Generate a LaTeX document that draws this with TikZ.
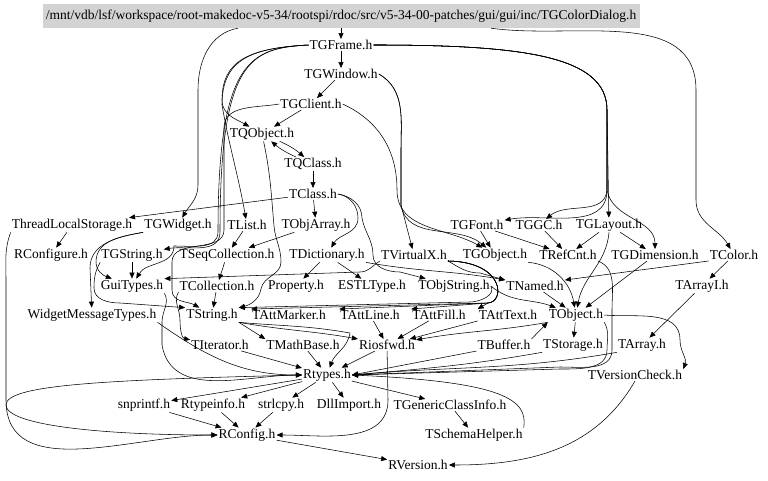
\documentclass[tikz,border=0pt]{standalone}
\usepackage{fontspec}
\setmainfont{Liberation Serif}
\usetikzlibrary{arrows.meta}
\definecolor{rootgray}{HTML}{D3D3D3}

\begin{document}
\begin{tikzpicture}[x=1pt,y=-1pt,
    hdr/.style={inner sep=1pt, font=\fontsize{13.5}{16}\selectfont},
    rootfile/.style={hdr, fill=rootgray, minimum width=597pt, minimum height=24pt, inner xsep=2pt},
    dep/.style={-{Triangle[length=6pt,width=5pt]}, line width=0.55pt}]
  \useasboundingbox (0,0) rectangle (768,481);

  % files, row by row
  \node[rootfile] (root) at (341,16) {/mnt/vdb/lsf/workspace/root-makedoc-v5-34/rootspi/rdoc/src/v5-34-00-patches/gui/gui/inc/TGColorDialog.h};
  \node[hdr] (TGFrame) at (341,45) {TGFrame.h};
  \node[hdr] (TGWindow) at (341,74) {TGWindow.h};
  \node[hdr] (TGClient) at (311,104) {TGClient.h};
  \node[hdr] (TQObject) at (262,134) {TQObject.h};
  \node[hdr] (TQClass) at (313,164) {TQClass.h};
  \node[hdr] (TClass) at (313,194) {TClass.h};

  \node[hdr] (ThreadLocalStorage) at (72,225) {ThreadLocalStorage.h};
  \node[hdr] (TGWidget) at (178,225) {TGWidget.h};
  \node[hdr] (TList) at (247,225) {TList.h};
  \node[hdr] (TObjArray) at (316,225) {TObjArray.h};
  \node[hdr] (TGFont) at (477,225) {TGFont.h};
  \node[hdr] (TGGC) at (539,225) {TGGC.h};
  \node[hdr] (TGLayout) at (609,225) {TGLayout.h};

  \node[hdr] (RConfigure) at (51,255) {RConfigure.h};
  \node[hdr] (TGString) at (132,255) {TGString.h};
  \node[hdr] (TSeqCollection) at (227,255) {TSeqCollection.h};
  \node[hdr] (TDictionary) at (327,255) {TDictionary.h};
  \node[hdr] (TVirtualX) at (414,255) {TVirtualX.h};
  \node[hdr] (TGObject) at (495,255) {TGObject.h};
  \node[hdr] (TRefCnt) at (568,255) {TRefCnt.h};
  \node[hdr] (TGDimension) at (655,255) {TGDimension.h};
  \node[hdr] (TColor) at (734,255) {TColor.h};

  \node[hdr] (GuiTypes) at (132,286) {GuiTypes.h};
  \node[hdr] (TCollection) at (217,286) {TCollection.h};
  \node[hdr] (Property) at (296,286) {Property.h};
  \node[hdr] (ESTLType) at (372,286) {ESTLType.h};
  \node[hdr] (TObjString) at (454,286) {TObjString.h};
  \node[hdr] (TNamed) at (535,286) {TNamed.h};
  \node[hdr] (TArrayI) at (702,286) {TArrayI.h};

  \node[hdr] (WidgetMessageTypes) at (92,315) {WidgetMessageTypes.h};
  \node[hdr] (TString) at (212,315) {TString.h};
  \node[hdr] (TAttMarker) at (289,315) {TAttMarker.h};
  \node[hdr] (TAttLine) at (370,315) {TAttLine.h};
  \node[hdr] (TAttFill) at (439,315) {TAttFill.h};
  \node[hdr] (TAttText) at (508,315) {TAttText.h};
  \node[hdr] (TObject) at (576,315) {TObject.h};

  \node[hdr] (TIterator) at (220,345) {TIterator.h};
  \node[hdr] (TMathBase) at (303,345) {TMathBase.h};
  \node[hdr] (Riosfwd) at (387,345) {Riosfwd.h};
  \node[hdr] (TBuffer) at (504,345) {TBuffer.h};
  \node[hdr] (TStorage) at (573,345) {TStorage.h};
  \node[hdr] (TArray) at (642,345) {TArray.h};

  \node[hdr] (Rtypes) at (327,375) {Rtypes.h};
  \node[hdr] (TVersionCheck) at (635,375) {TVersionCheck.h};

  \node[hdr] (snprintf) at (144,405) {snprintf.h};
  \node[hdr] (Rtypeinfo) at (213,405) {Rtypeinfo.h};
  \node[hdr] (strlcpy) at (281,405) {strlcpy.h};
  \node[hdr] (DllImport) at (349,405) {DllImport.h};
  \node[hdr] (TGenericClassInfo) at (450,405) {TGenericClassInfo.h};

  \node[hdr] (RConfig) at (247,435) {RConfig.h};
  \node[hdr] (TSchemaHelper) at (474,435) {TSchemaHelper.h};
  \node[hdr] (RVersion) at (418,465) {RVersion.h};

  % TGColorDialog.h
  \draw[dep] (root) -- (TGFrame);
  \draw[dep] ([xshift=-103pt]root.south) to[out=190,in=90] (198,90) -- (198,185) to[out=-90,in=60] (TGWidget);
  \draw[dep] ([xshift=150pt]root.south) to[out=-8,in=90] (696,90) -- (696,200) to[out=-90,in=120] (TColor);

  % TGFrame.h
  \draw[dep] (TGFrame) -- (TGWindow);
  \draw[dep] (TGFrame.east) .. controls (520,45) and (607,55) .. (607,110) -- (607,190) to[out=-90,in=10] (TGFont);
  \draw[dep] (TGFrame.east) .. controls (520,45) and (607,55) .. (607,110) -- (607,190) to[out=-95,in=40] (TGGC);
  \draw[dep] (TGFrame.east) .. controls (520,45) and (607,55) .. (607,110) -- (TGLayout);
  \draw[dep] (TGFrame.east) .. controls (520,45) and (607,55) .. (607,110) -- (607,190) to[out=-80,in=90] (TGDimension);
  \draw[dep] (TGFrame.west) .. controls (250,48) and (222,60) .. (222,100) to[out=-90,in=150] (TQObject);
  \draw[dep] (TGFrame.west) .. controls (250,48) and (222,60) .. (222,105) to[out=-80,in=100] (TList);
  \draw[dep] (TGFrame.west) .. controls (250,48) and (220,60) .. (220,232) to[out=-90,in=10] (TGString);
  \draw[dep] (TGFrame.west) .. controls (250,48) and (218,60) .. (218,232) to[out=-90,in=0] (174,246) to[out=-90,in=60] (GuiTypes);

  % TGWindow.h and TGClient.h
  \draw[dep] (TGWindow) -- (TGClient);
  \draw[dep] (TGWindow.east) to[out=-30,in=90] (401,150) -- (401,205) -- (TVirtualX);
  \draw[dep] (TGWindow.east) to[out=-30,in=90] (401,150) -- (401,205) to[out=-80,in=140] (TGObject);
  \draw[dep] (TGClient) -- (TQObject);
  \draw[dep] (TGClient.east) to[out=-25,in=90] (397,190) to[out=-90,in=150] (TGObject);
  \draw[dep] (TGClient.west) to[out=190,in=90] (224,128) -- (224,230) to[out=-90,in=90] (172,262) -- (172,290) to[out=-90,in=150] (TString);

  % TQObject.h, TQClass.h, TClass.h
  \draw[dep] (TQObject) to[bend left=8] (TQClass);
  \draw[dep] (TQClass) to[bend left=8] (TQObject);
  \draw[dep] (TQObject) to[out=-78,in=95] (274,226) to[out=-85,in=90] (281,262) to[out=-90,in=80] (261,289) to[out=-100,in=15] (TString);
  \draw[dep] (TQClass) -- (TClass);
  \draw[dep] (TClass) -- (ThreadLocalStorage);
  \draw[dep] (TClass) -- (TObjArray);
  \draw[dep] (TClass.east) to[out=-10,in=90] (358,218) to[out=-90,in=60] (TDictionary);
  \draw[dep] (TClass.east) to[out=-10,in=90] (362,218) to[out=-80,in=90] (373,255) to[out=-90,in=180] (400,272) -- (TObjString);

  % second and third rows
  \draw[dep] (ThreadLocalStorage) -- (RConfigure);
  \draw[dep] (ThreadLocalStorage.south west) to[out=-110,in=90] (6,280) -- (6,400) to[out=-90,in=180] (RConfig);
  \draw[dep] (TGWidget.south west) to[out=-170,in=90] (90,268) -- (WidgetMessageTypes);
  \draw[dep] (TGWidget.south west) to[out=-170,in=90] (96,262) to[out=-90,in=160] (GuiTypes);
  \draw[dep] (TGString) -- (GuiTypes);
  \draw[dep] (TGString.south west) to[out=-120,in=90] (94,288) to[out=-90,in=180] (120,303) -- (TString.north west);
  \draw[dep] (TList) -- (TSeqCollection);
  \draw[dep] (TObjArray) -- (TSeqCollection);
  \draw[dep] (TSeqCollection) -- (TCollection);
  \draw[dep] (TDictionary) -- (Property);
  \draw[dep] (TDictionary) -- (ESTLType);
  \draw[dep] (TDictionary.south east) to[out=-10,in=170] (TNamed.north west);
  \draw[dep] (TGFont) -- (TGObject);
  \draw[dep] (TGFont) -- (TRefCnt);
  \draw[dep] (TGGC) -- (TRefCnt);
  \draw[dep] (TGLayout) -- (TRefCnt);
  \draw[dep] (TGLayout) -- (TGDimension);
  \draw[dep] (TGLayout.south) to[out=-95,in=80] (TObject);
  \draw[dep] (TGDimension) -- (TObject);
  \draw[dep] (TColor.south west) -- (TNamed.north east);
  \draw[dep] (TColor) -- (TArrayI);
  \draw[dep] (TGObject.south east) to[out=-5,in=100] (TObject);
  \draw[dep] (TVirtualX.south west) to[out=-150,in=0] (360,272) -- (GuiTypes.north east);
  \draw[dep] (TVirtualX.south east) to[out=-30,in=180] (480,273) -- (TNamed.north west);
  \draw[dep] (TVirtualX.south east) .. controls (505,262) and (505,302) .. (488,303) -- (TAttText.north west);
  \draw[dep] (TVirtualX.south east) .. controls (505,262) and (505,302) .. (488,303) -- (TAttFill.north west);
  \draw[dep] (TVirtualX.south east) .. controls (505,262) and (505,302) .. (488,303) -- (TAttLine.north west);
  \draw[dep] (TVirtualX.south east) .. controls (505,262) and (505,302) .. (488,303) -- (TAttMarker.north west);

  % fourth row
  \draw[dep] (TCollection) -- (TString);
  \draw[dep] (TCollection.south west) to[out=-120,in=90] (180,320) to[out=-90,in=170] (TIterator);
  \draw[dep] (TObjString.east) to[out=-60,in=0] (470,302) -- (TString.north east);
  \draw[dep] (TObjString.east) to[out=-40,in=160] (TObject);
  \draw[dep] (TNamed) -- (TObject);
  \draw[dep] (TArrayI) -- (TArray);
  \draw[dep] (TRefCnt.south east) to[out=-20,in=90] (612,310) -- (612,350) to[out=-90,in=0] (560,367) -- (Rtypes.east);

  % fifth row
  \draw[dep] (TString.south east) -- (TMathBase.north west);
  \draw[dep] (TString.south east) to[out=-10,in=170] (Riosfwd.north west);
  \draw[dep] (TString.south east) to[out=-5,in=170] (350,333) to[out=-100,in=70] (Rtypes);
  \draw[dep] (TAttLine) -- (Riosfwd);
  \draw[dep] (TAttFill) -- (Riosfwd);
  \draw[dep] (TAttText.south west) -- (Riosfwd);
  \draw[dep] (TObject.south west) to[out=-170,in=10] (Riosfwd);
  \draw[dep] (TObject) -- (TStorage);
  \draw[dep] (TObject.east) to[out=-5,in=90] (680,340) to[out=-90,in=70] (TVersionCheck.north east);
  \draw[dep] (TObject.south east) to[out=-60,in=90] (607,350) to[out=-90,in=0] (560,369) -- (Rtypes.east);
  \draw[dep] (TBuffer.north east) -- (TObject.south west);

  % towards Rtypes.h
  \draw[dep] (GuiTypes.south east) to[out=-60,in=90] (162,322) -- (162,345) to[out=-80,in=180] (Rtypes);
  \draw[dep] (WidgetMessageTypes.south east) to[out=-35,in=180] (Rtypes);
  \draw[dep] (TIterator) -- (Rtypes);
  \draw[dep] (TMathBase) -- (Rtypes);
  \draw[dep] (Riosfwd) -- (Rtypes);
  \draw[dep] (TBuffer.south west) -- (Rtypes.east);
  \draw[dep] (TStorage.south west) to[out=-170,in=5] (Rtypes.east);
  \draw[dep] (TArray.south west) to[out=-170,in=5] (Rtypes.east);
  \draw[dep] (TSchemaHelper.north east) .. controls (528,400) and (505,382) .. (Rtypes.east);

  % Rtypes.h and below
  \draw[dep] (Rtypes) -- (snprintf);
  \draw[dep] (Rtypes) -- (Rtypeinfo);
  \draw[dep] (Rtypes) -- (strlcpy);
  \draw[dep] (Rtypes) -- (DllImport);
  \draw[dep] (Rtypes) -- (TGenericClassInfo);
  \draw[dep] (Rtypes.west) .. controls (100,380) and (6,385) .. (6,405) .. controls (6,425) and (100,435) .. (RConfig.west);
  \draw[dep] (snprintf) -- (RConfig);
  \draw[dep] (Rtypeinfo) -- (RConfig);
  \draw[dep] (strlcpy) -- (RConfig);
  \draw[dep] (Riosfwd) -- (388,400) to[out=-90,in=0] (RConfig);
  \draw[dep] (TGenericClassInfo) -- (TSchemaHelper);
  \draw[dep] (RConfig) -- (RVersion);
  \draw[dep] (TVersionCheck.south) to[out=-120,in=0] (RVersion);
\end{tikzpicture}
\end{document}
